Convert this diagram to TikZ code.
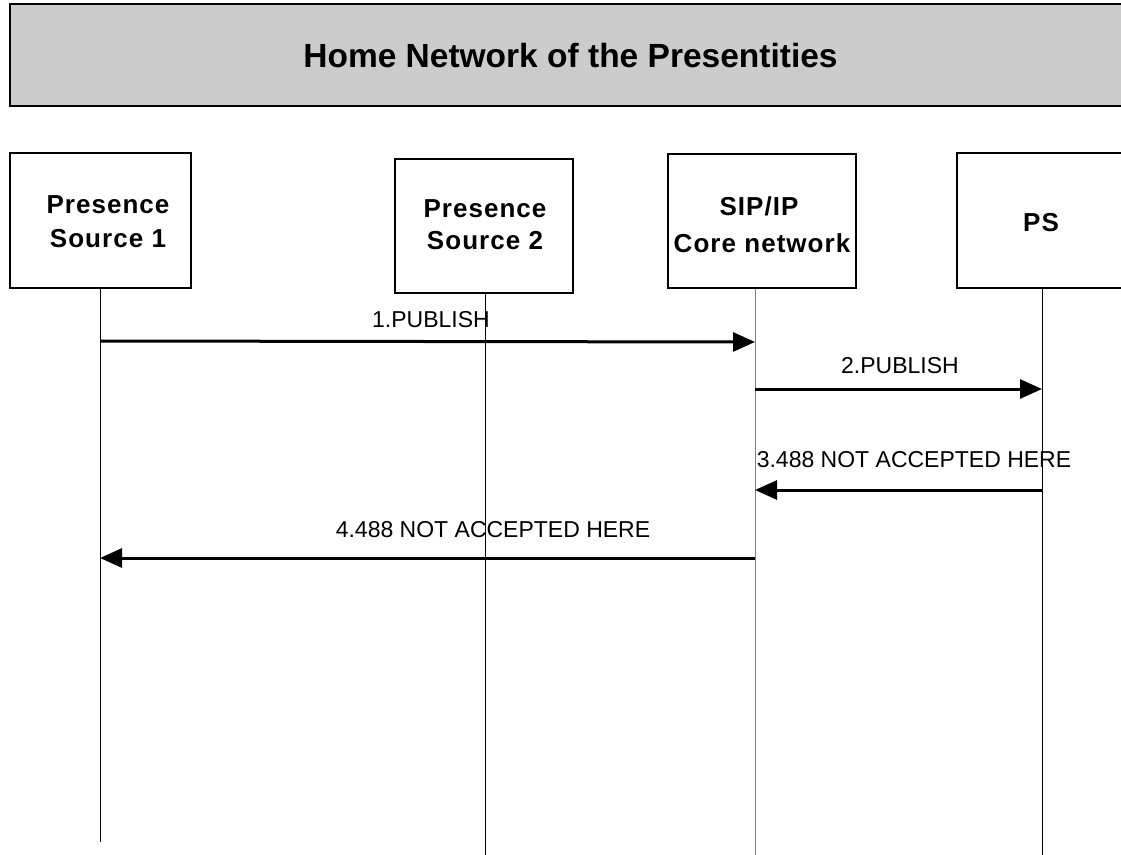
\documentclass[tikz,border=0pt]{standalone}
\usepackage{fontspec}
\setmainfont{Liberation Sans}
\usetikzlibrary{arrows.meta}
\definecolor{hdrgray}{RGB}{204,204,204}
\definecolor{lifegray}{RGB}{128,128,128}
\begin{document}
\begin{tikzpicture}[x=1pt,y=-1pt,
  box/.style={draw,line width=1.3pt,fill=white,inner sep=0pt},
  hdr/.style={draw,line width=1.3pt,fill=hdrgray,inner sep=0pt},
  ttl/.style={font=\fontsize{33.5}{40}\selectfont\bfseries,anchor=base,inner sep=0pt},
  lbl/.style={font=\fontsize{26}{30}\selectfont\bfseries\addfontfeatures{LetterSpace=4},anchor=base,inner sep=0pt},
  msgtxt/.style={font=\fontsize{23}{27}\selectfont,anchor=base,inner sep=0pt},
  msg/.style={line width=3pt,-{Triangle[length=22pt,width=19pt]}},
  life/.style={line width=1pt}]
\useasboundingbox (0,0) rectangle (1121,854);
\clip (0,0) rectangle (1121,854);

% header
\node[hdr,minimum width=1130pt,minimum height=102pt] (header) at (575,55) {};
\node[ttl] (title) at (570.5,67) {Home Network of the Presentities};

% boxes
\node[box,minimum width=181pt,minimum height=135pt] (ps1) at (100.5,220.5) {};
\node[box,minimum width=178pt,minimum height=134pt] (ps2) at (484,226) {};
\node[box,minimum width=188pt,minimum height=134pt] (sip) at (762,221) {};
\node[box,minimum width=190pt,minimum height=135pt] (ps) at (1052,220.5) {};

\node[lbl] (t1a) at (108,213) {Presence};
\node[lbl] (t1b) at (108,247) {Source 1};
\node[lbl] (t2a) at (485,217) {Presence};
\node[lbl] (t2b) at (485,249) {Source 2};
\node[lbl] (t3a) at (759,215) {SIP/IP};
\node[lbl] (t3b) at (762,252) {Core network};
\node[lbl] (t4) at (1041,231) {PS};

% lifeline ends
\coordinate (e1) at (100,842);
\coordinate (e2) at (485,860);
\coordinate (e3) at (755,860);
\coordinate (e4) at (1042,860);

\draw[life] (ps1.south -| e1) -- (e1);
\draw[life] (ps2.south -| e2) -- (e2);
\draw[life,lifegray] (sip.south -| e3) -- (e3);
\draw[life] (ps.south -| e4) -- (e4);

% message endpoints
\coordinate (m1s) at (100,341);
\coordinate (m1e) at (755,342);
\coordinate (m2s) at (755,389);
\coordinate (m2e) at (1042,389);
\coordinate (m3s) at (1043,490);
\coordinate (m3e) at (755,490);
\coordinate (m4s) at (755,558);
\coordinate (m4e) at (100,558);

\draw[msg] (m1s) -- (m1e);
\draw[msg] (m2s) -- (m2e);
\draw[msg] (m3s) -- (m3e);
\draw[msg] (m4s) -- (m4e);

\node[msgtxt] (l1) at (431,327) {1.PUBLISH};
\node[msgtxt] (l2) at (900,373) {2.PUBLISH};
\node[msgtxt] (l3) at (914,467) {3.488 NOT ACCEPTED HERE};
\node[msgtxt] (l4) at (493,537) {4.488 NOT ACCEPTED HERE};
\end{tikzpicture}
\end{document}
